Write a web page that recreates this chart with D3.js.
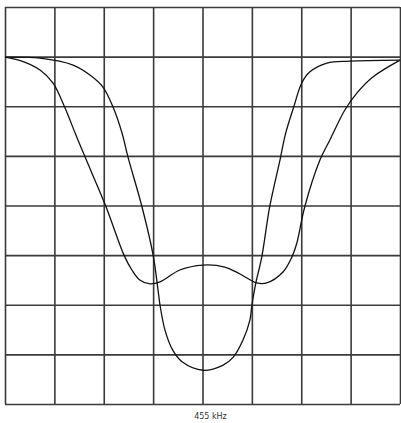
<!DOCTYPE html>
<html>
<head>
<meta charset="utf-8">
<script src="https://cdn.jsdelivr.net/npm/d3@7"></script>
<style>
    body { margin: 0; background: #fff; }
    .grid line { stroke: #3a3a3a; stroke-width: 1.6; }
    .grid path { display: none; }
    .trace { fill: none; stroke: #111; stroke-width: 1.3; }
    .freq-label { font-family: "DejaVu Sans", sans-serif; font-size: 8px; fill: #333; }
</style>
</head>
<body>
<script>
// Screen divisions (8 x 8 graticule)
const gridTicks = [0, 1, 2, 3, 4, 5, 6, 7, 8];
const centerLabel = "455 kHz";

// Broad response (flat-bottomed, double dip) — x and y in divisions, y down from top
const broadX = [0, 0.34, 0.71, 0.97, 1.21, 1.42, 1.62, 2.04, 2.41, 2.57, 2.73, 2.94, 3.14, 3.54, 4.01, 4.45, 4.76, 5.10, 5.30, 5.63, 5.81, 5.91, 6.07, 6.38, 6.58, 6.88, 7.13, 7.45, 8.0];
const broadY = [1.01, 1.09, 1.27, 1.53, 2.02, 2.54, 3.02, 4.01, 5.00, 5.30, 5.50, 5.58, 5.54, 5.30, 5.20, 5.24, 5.38, 5.56, 5.56, 5.34, 5.04, 4.76, 4.03, 3.08, 2.68, 2.08, 1.73, 1.41, 1.07];

// Narrow response (single deep dip)
const narrowX = [0, 0.71, 1.38, 1.72, 1.98, 2.19, 2.37, 2.49, 2.77, 3.00, 3.10, 3.14, 3.24, 3.40, 3.60, 4.01, 4.41, 4.62, 4.82, 4.96, 5.00, 5.08, 5.20, 5.36, 5.57, 5.68, 5.84, 6.01, 6.17, 6.52, 6.98, 8.0];
const narrowY = [1.01, 1.03, 1.17, 1.37, 1.61, 2.02, 2.54, 3.02, 4.01, 5.00, 5.71, 6.01, 6.51, 6.92, 7.16, 7.32, 7.22, 7.06, 6.71, 6.31, 6.01, 5.56, 5.04, 4.03, 3.08, 2.56, 2.04, 1.53, 1.31, 1.13, 1.09, 1.07];

const width = 401;
const height = 423;
const plot = { left: 5, right: 400, top: 7, bottom: 404 };

const svg = d3.select("body")
    .append("svg")
    .attr("width", width)
    .attr("height", height);

const xScale = d3.scaleLinear()
    .domain([0, 8])
    .range([plot.left, plot.right]);

const yScale = d3.scaleLinear()
    .domain([0, 8])
    .range([plot.top, plot.bottom]);

// Vertical graticule lines
svg.append("g")
    .attr("class", "grid")
    .attr("transform", `translate(0, ${plot.bottom})`)
    .call(d3.axisBottom(xScale)
        .tickValues(gridTicks)
        .tickSize(-(plot.bottom - plot.top))
        .tickFormat(""));

// Horizontal graticule lines
svg.append("g")
    .attr("class", "grid")
    .attr("transform", `translate(${plot.left}, 0)`)
    .call(d3.axisLeft(yScale)
        .tickValues(gridTicks)
        .tickSize(-(plot.right - plot.left))
        .tickFormat(""));

const line = d3.line()
    .x(d => xScale(d[0]))
    .y(d => yScale(d[1]))
    .curve(d3.curveCatmullRom.alpha(0.5));

svg.append("path")
    .datum(d3.zip(broadX, broadY))
    .attr("class", "trace")
    .attr("d", line);

svg.append("path")
    .datum(d3.zip(narrowX, narrowY))
    .attr("class", "trace")
    .attr("d", line);

// Centre frequency label
svg.append("text")
    .attr("class", "freq-label")
    .attr("x", xScale(4) + 8)
    .attr("y", 419)
    .attr("text-anchor", "middle")
    .text(centerLabel);
</script>
</body>
</html>
